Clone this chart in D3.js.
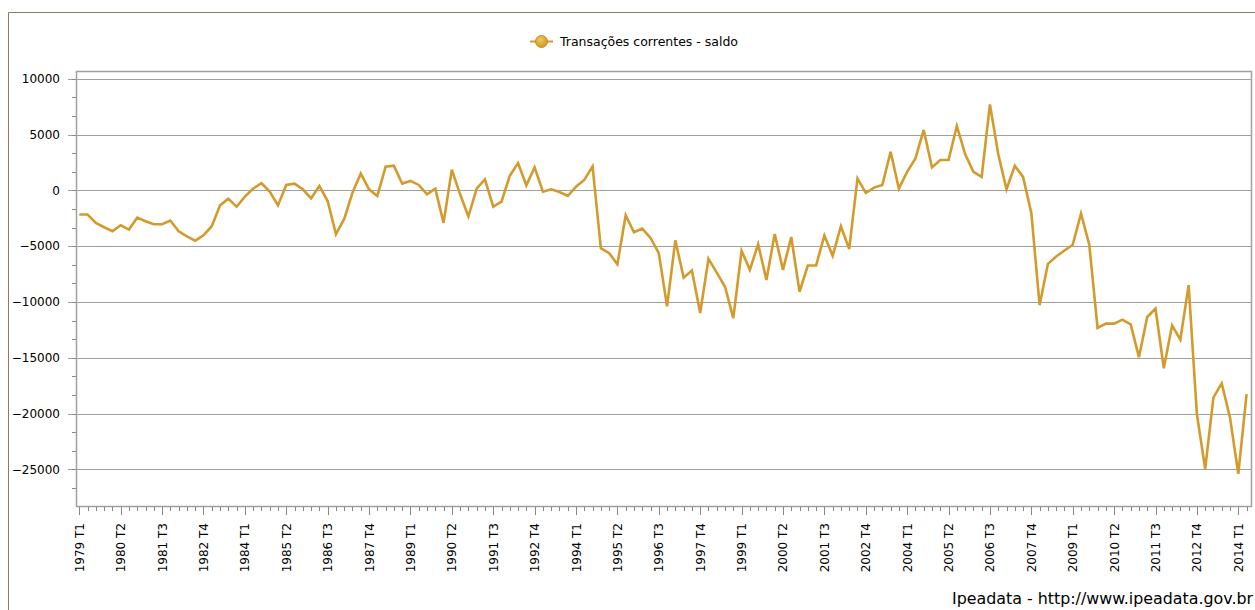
<!DOCTYPE html>
<html>
<head>
<meta charset="utf-8">
<script src="https://cdn.jsdelivr.net/npm/d3@7"></script>
<style>
  html, body { margin: 0; padding: 0; background: #fff; }
  svg { display: block; }
  text { font-family: "DejaVu Sans", Verdana, sans-serif; fill: #000; }
</style>
</head>
<body>
<svg id="chart" width="1255" height="610"></svg>
<script>
// ---- data ----
const seriesName = "Transações correntes - saldo";
const startYear = 1979;
const values = [
  -2170, -2170, -2920, -3310, -3670, -3130, -3520, -2440, -2770, -3040,
  -3040, -2710, -3670, -4120, -4510, -4030, -3220, -1350, -750, -1470,
  -570, 150, 630, -120, -1350, 480, 600, 90, -720, 390,
  -960, -3940, -2560, -210, 1500, 90, -510, 2110, 2200, 600,
  840, 480, -360, 150, -2920, 1850, -360, -2350, 150, 990,
  -1470, -1020, 1290, 2440, 450, 2050, -120, 90, -150, -510,
  330, 930, 2140, -5180, -5630, -6620, -2230, -3760, -3430, -4270,
  -5630, -10400, -4480, -7830, -7190, -11000, -6140, -7370, -8640, -11450,
  -5420, -7130, -4820, -8040, -3910, -7130, -4180, -9090, -6740, -6740,
  -4060, -5870, -3220, -5270, 1060, -240, 240, 480, 3450, 150,
  1660, 2860, 5410, 2050, 2710, 2710, 5770, 3250, 1660, 1200,
  7700, 3250, 90, 2200, 1200, -2020, -10300, -6590, -5930, -5390,
  -4880, -2080, -4880, -12340, -11950, -11950, -11590, -12010, -14950, -11350,
  -10600, -15950, -12100, -13390, -8500, -20070, -24950, -18560, -17300, -20370,
  -25400, -18270
];
const quarters = values.map((v, i) => `${startYear + Math.floor(i / 4)} T${(i % 4) + 1}`);
const xTickLabels = ["1979 T1","1980 T2","1981 T3","1982 T4","1984 T1","1985 T2","1986 T3","1987 T4","1989 T1","1990 T2","1991 T3","1992 T4","1994 T1","1995 T2","1996 T3","1997 T4","1999 T1","2000 T2","2001 T3","2002 T4","2004 T1","2005 T2","2006 T3","2007 T4","2009 T1","2010 T2","2011 T3","2012 T4","2014 T1"];
const yTicks = [10000, 5000, 0, -5000, -10000, -15000, -20000, -25000];
const footer = "Ipeadata - http://www.ipeadata.gov.br";

// ---- layout ----
const svg = d3.select("#chart");
const plot = { left: 76, top: 71, right: 1251, bottom: 506 };
const lineColor = "#D49A2C";
const gridColor = "#A0A0A0";

// outer frame
svg.append("line").attr("x1", 8.5).attr("x2", 1255).attr("y1", 12.5).attr("y2", 12.5)
  .attr("stroke", "#8E7866").attr("stroke-width", 1);
svg.append("line").attr("x1", 8.5).attr("x2", 8.5).attr("y1", 12.5).attr("y2", 610)
  .attr("stroke", "#8E7866").attr("stroke-width", 1);

const x = d3.scaleLinear().domain([0, 140]).range([79.3, 1238.3]);
const y = d3.scaleLinear().domain([10000, -25000]).range([78.7, 469.3]);

// gridlines
svg.append("g").selectAll("line").data(yTicks).join("line")
  .attr("x1", 68).attr("x2", plot.right)
  .attr("y1", d => Math.round(y(d)) + 0.5).attr("y2", d => Math.round(y(d)) + 0.5)
  .attr("stroke", gridColor).attr("stroke-width", 1.2);

// minor y ticks
const minorY = [];
for (let v = 10000; v >= -28000; v -= 5000/3) {
  minorY.push(v);
}
svg.append("g").selectAll("line").data(minorY.filter(v => y(v) <= plot.bottom && y(v) >= plot.top)).join("line")
  .attr("x1", 72).attr("x2", plot.left)
  .attr("y1", d => Math.round(y(d)) + 0.5).attr("y2", d => Math.round(y(d)) + 0.5)
  .attr("stroke", "#888").attr("stroke-width", 1);

// plot border
svg.append("rect").attr("x", plot.left + 0.5).attr("y", plot.top + 0.5)
  .attr("width", plot.right - plot.left).attr("height", plot.bottom - plot.top)
  .attr("fill", "none").attr("stroke", gridColor).attr("stroke-width", 1.5);

// y labels
svg.append("g").selectAll("text").data(yTicks).join("text")
  .attr("x", 60).attr("y", d => y(d)).attr("dy", "0.35em")
  .attr("text-anchor", "end").attr("font-size", 12)
  .text(d => d3.format("d")(d));

// x ticks
const xAxisY = plot.bottom + 1;
svg.append("g").selectAll("line").data(quarters).join("line")
  .attr("x1", (d, i) => Math.round(x(i)) + 0.5).attr("x2", (d, i) => Math.round(x(i)) + 0.5)
  .attr("y1", xAxisY).attr("y2", (d, i) => i % 5 === 0 ? xAxisY + 8 : xAxisY + 4)
  .attr("stroke", "#888").attr("stroke-width", 1);

svg.append("g").selectAll("text").data(xTickLabels).join("text")
  .attr("transform", d => {
    const i = quarters.indexOf(d);
    return `translate(${x(i) + 4.5},523) rotate(-90)`;
  })
  .attr("text-anchor", "end").attr("font-size", 12)
  .text(d => d);

// series line
const line = d3.line().x((d, i) => x(i)).y(d => y(d));
svg.append("path").datum(values)
  .attr("d", line).attr("fill", "none")
  .attr("stroke", lineColor).attr("stroke-width", 2.6)
  .attr("stroke-linejoin", "miter").attr("stroke-miterlimit", 4);

// legend
const defs = svg.append("defs");
const grad = defs.append("radialGradient").attr("id", "mk").attr("cx", "40%").attr("cy", "35%").attr("r", "65%");
grad.append("stop").attr("offset", "0%").attr("stop-color", "#F3C660");
grad.append("stop").attr("offset", "100%").attr("stop-color", "#D09A22");
const lg = svg.append("g");
lg.append("line").attr("x1", 530).attr("x2", 553).attr("y1", 41.5).attr("y2", 41.5)
  .attr("stroke", lineColor).attr("stroke-width", 2);
lg.append("circle").attr("cx", 541.5).attr("cy", 41.5).attr("r", 6)
  .attr("fill", "url(#mk)").attr("stroke", "#C58D1E").attr("stroke-width", 1);
lg.append("text").attr("x", 560).attr("y", 46).attr("font-size", 12)
  .attr("textLength", 178).attr("lengthAdjust", "spacingAndGlyphs")
  .text(seriesName);

// footer
svg.append("text").attr("x", 1253).attr("y", 604).attr("text-anchor", "end")
  .attr("font-size", 16).attr("fill", "#222")
  .attr("textLength", 301).attr("lengthAdjust", "spacingAndGlyphs")
  .text(footer);
</script>
</body>
</html>
